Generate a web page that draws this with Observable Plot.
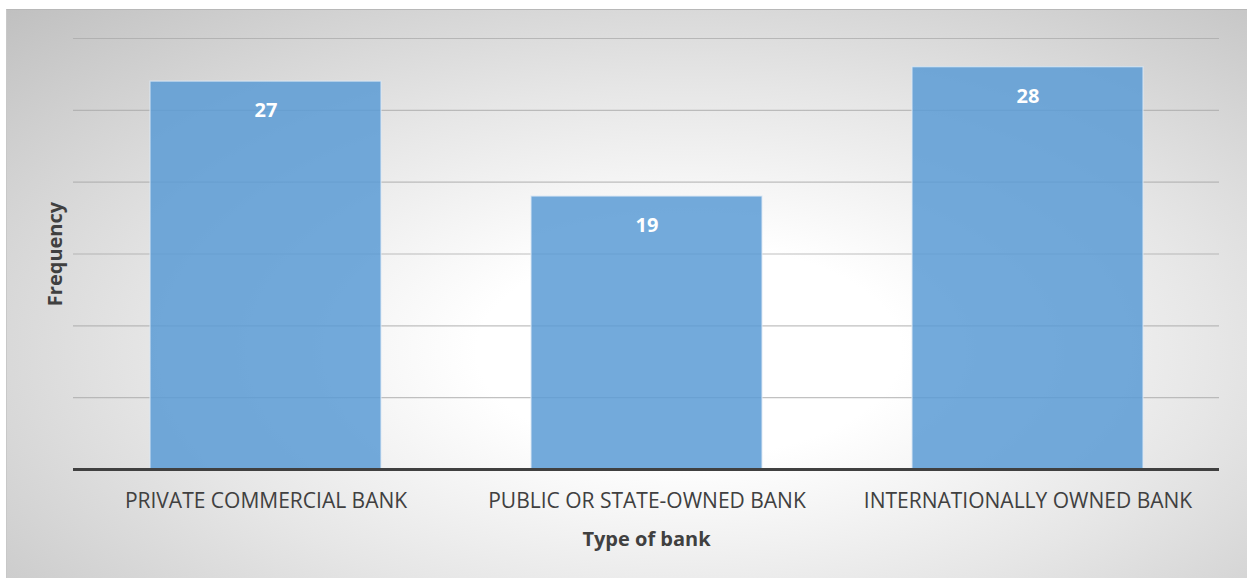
<!DOCTYPE html>
<html>
<head>
<meta charset="utf-8">
<script src="https://cdn.jsdelivr.net/npm/d3@7"></script>
<script src="https://cdn.jsdelivr.net/npm/@observablehq/plot@0.6"></script>
<style>
  html, body { margin: 0; padding: 0; background: #fff; }
  #wrap { position: relative; width: 1247px; height: 578px; overflow: hidden; }
  #bg { position: absolute; left: 6px; top: 9px; right: 0; bottom: 0;
        background: radial-gradient(ellipse farthest-corner at 55% 60%, #ffffff 0%, #ffffff 22%, #e6e6e6 55%, #c0c0c0 100%);
        border-top: 1px solid #b8b8b8; border-left: 1px solid #c8c8c8; }
  #chart { position: absolute; left: 0; top: 0; }
  #chart svg { background: transparent !important; }
</style>
</head>
<body>
<div id="wrap"><div id="bg"></div><div id="chart"></div></div>
<script>
const categories = ["PRIVATE COMMERCIAL BANK", "PUBLIC OR STATE-OWNED BANK", "INTERNATIONALLY OWNED BANK"];
const frequencies = [27, 19, 28];
const gridTicks = [5, 10, 15, 20, 25, 30];

const data = categories.map((c, i) => ({category: c, value: frequencies[i]}));

const chart = Plot.plot({
  width: 1247,
  height: 578,
  marginLeft: 73,
  marginRight: 28,
  marginTop: 38,
  marginBottom: 109,
  style: {background: "transparent", fontFamily: "'Open Sans', sans-serif"},
  x: {domain: categories, paddingInner: 0.395, paddingOuter: 0.1977, label: null},
  y: {domain: [0, 30], axis: null},
  marks: [
    Plot.ruleY(gridTicks, {stroke: "#a6a6a6", strokeOpacity: 0.7, strokeWidth: 1.2}),
    Plot.barY(data, {x: "category", y: "value", fill: "#5b9bd5", fillOpacity: 0.85, stroke: "#dbe8f5", strokeOpacity: 0.8, strokeWidth: 1.2}),
    Plot.ruleY([0], {stroke: "#404040", strokeWidth: 3}),
    Plot.axisX({tickSize: 0, tickPadding: 24, fontSize: 21, fill: "#404040", label: null}),
    Plot.text(data, {x: "category", y: "value", text: d => String(d.value), dy: 29, fill: "white", fontWeight: "bold", fontSize: 20}),
    Plot.text(["Type of bank"], {frameAnchor: "bottom", dy: 76, fill: "#404040", fontWeight: "bold", fontSize: 20}),
    Plot.text(["Frequency"], {frameAnchor: "left", textAnchor: "middle", dx: -18, rotate: -90, fill: "#404040", fontWeight: "bold", fontSize: 20})
  ]
});
document.getElementById("chart").appendChild(chart);
</script>
</body>
</html>
